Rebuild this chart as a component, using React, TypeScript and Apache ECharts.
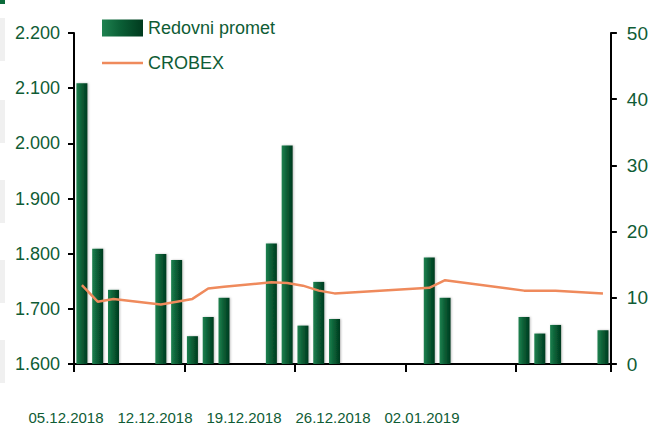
import React, { useEffect, useRef } from "react";
import * as echarts from "echarts";

const tradingDays = [
  "05.12.2018", "06.12.2018", "07.12.2018", "10.12.2018", "11.12.2018",
  "12.12.2018", "13.12.2018", "14.12.2018", "17.12.2018", "18.12.2018",
  "19.12.2018", "20.12.2018", "21.12.2018", "27.12.2018", "28.12.2018",
  "02.01.2019", "03.01.2019", "04.01.2019", "07.01.2019",
];
const redovniPromet = [
  42.4, 17.4, 11.2, 16.6, 15.7, 4.2, 7.1, 10.0, 18.2, 33.0,
  5.8, 12.4, 6.8, 16.1, 10.0, 7.1, 4.6, 5.9, 5.1,
];
const crobex = [
  1743, 1713, 1718, 1708, 1713, 1718, 1737, 1740, 1748, 1747,
  1742, 1733, 1728, 1738, 1752, 1733, 1733, 1733, 1728,
];
const xTickLabels = ["05.12.2018", "12.12.2018", "19.12.2018", "26.12.2018", "02.01.2019"];

const FONT = "'Liberation Sans Narrow', 'Arial Narrow', 'Liberation Sans', Arial, sans-serif";
const GREEN_TEXT = "#0f5c35";

function buildCalendar(): string[] {
  const out: string[] = [];
  const d = new Date(Date.UTC(2018, 11, 5));
  const end = new Date(Date.UTC(2019, 0, 7));
  while (d <= end) {
    const dd = String(d.getUTCDate()).padStart(2, "0");
    const mm = String(d.getUTCMonth() + 1).padStart(2, "0");
    out.push(`${dd}.${mm}.${d.getUTCFullYear()}`);
    d.setUTCDate(d.getUTCDate() + 1);
  }
  return out;
}

export default function App() {
  const ref = useRef<HTMLDivElement>(null);
  useEffect(() => {
    if (!ref.current) return;
    const chart = echarts.init(ref.current, undefined, { renderer: "svg" });
    const calendar = buildCalendar();
    const volByDay = calendar.map((c) => {
      const i = tradingDays.indexOf(c);
      return i >= 0 ? redovniPromet[i] : null;
    });
    const crobexByDay = calendar.map((c) => {
      const i = tradingDays.indexOf(c);
      return i >= 0 ? crobex[i] : null;
    });
    const bands = [18, 100, 180, 260, 340].map((y) => ({
      type: "rect",
      left: 0,
      top: y,
      shape: { width: 5, height: 43 },
      style: { fill: "#f0f0f0" },
      silent: true,
    }));
    chart.setOption({
      animation: false,
      backgroundColor: "#ffffff",
      graphic: [
        ...bands,
        { type: "rect", left: 0, top: 0, shape: { width: 5, height: 4 }, style: { fill: "#0b6b3a" } },
      ],
      legend: {
        orient: "vertical",
        left: 97,
        top: 14,
        itemWidth: 41,
        itemHeight: 17,
        itemGap: 17,
        textStyle: { fontFamily: FONT, fontSize: 18, color: GREEN_TEXT },
        data: [
          { name: "Redovni promet", icon: "rect" },
          { name: "CROBEX", icon: "path://M0,0H41V2.5H0Z" },
        ],
      },
      grid: [
        { left: 74, right: 39, top: 33, bottom: 68 },
        { left: 66, width: 356, top: 363, height: 1 },
      ],
      xAxis: [
        {
          type: "category",
          gridIndex: 0,
          data: calendar,
          boundaryGap: true,
          axisLine: { show: true, lineStyle: { color: "#000", width: 2 } },
          axisTick: { show: true, interval: 6, length: 8, lineStyle: { color: "#000", width: 2 } },
          axisLabel: { show: false, interval: 6 },
          splitLine: { show: false },
        },
        {
          type: "value",
          gridIndex: 1,
          min: 0,
          max: xTickLabels.length - 1,
          interval: 1,
          axisLine: { show: false },
          axisTick: { show: false },
          splitLine: { show: false },
          axisLabel: {
            margin: 46,
            fontFamily: FONT,
            fontSize: 15,
            color: GREEN_TEXT,
            formatter: (v: number) => xTickLabels[Math.round(v)] ?? "",
          },
        },
      ],
      yAxis: [
        {
          type: "value",
          gridIndex: 0,
          min: 1600,
          max: 2200,
          interval: 100,
          position: "left",
          axisLine: { show: true, lineStyle: { color: "#000", width: 2 } },
          axisTick: { show: true, length: 6, lineStyle: { color: "#000", width: 2 } },
          splitLine: { show: false },
          axisLabel: {
            margin: 14,
            fontFamily: FONT,
            fontSize: 18,
            color: GREEN_TEXT,
            formatter: (v: number) => (v / 1000).toFixed(3),
          },
        },
        {
          type: "value",
          gridIndex: 0,
          min: 0,
          max: 50,
          interval: 10,
          position: "right",
          axisLine: { show: true, lineStyle: { color: "#000", width: 2 } },
          axisTick: { show: true, length: 6, lineStyle: { color: "#000", width: 2 } },
          splitLine: { show: false },
          axisLabel: { margin: 16, fontFamily: FONT, fontSize: 19, color: GREEN_TEXT },
        },
        {
          type: "value",
          gridIndex: 1,
          show: false,
        },
      ],
      series: [
        {
          name: "Redovni promet",
          type: "bar",
          xAxisIndex: 0,
          yAxisIndex: 1,
          data: volByDay,
          barWidth: 11,
          itemStyle: {
            color: new echarts.graphic.LinearGradient(0, 0, 1, 0, [
              { offset: 0, color: "#1f8250" },
              { offset: 0.45, color: "#0b5f36" },
              { offset: 1, color: "#003a1e" },
            ]),
            shadowColor: "rgba(0,0,0,0.25)",
            shadowBlur: 2,
            shadowOffsetX: 1,
          },
        },
        {
          name: "CROBEX",
          type: "line",
          xAxisIndex: 0,
          yAxisIndex: 0,
          data: crobexByDay,
          connectNulls: true,
          symbol: "none",
          lineStyle: { color: "#ef8a5c", width: 2.5 },
          itemStyle: { color: "#ef8a5c" },
        },
      ],
    });
    return () => chart.dispose();
  }, []);
  return <div ref={ref} style={{ width: 651, height: 432, position: "fixed", left: 0, top: 0 }} />;
}
